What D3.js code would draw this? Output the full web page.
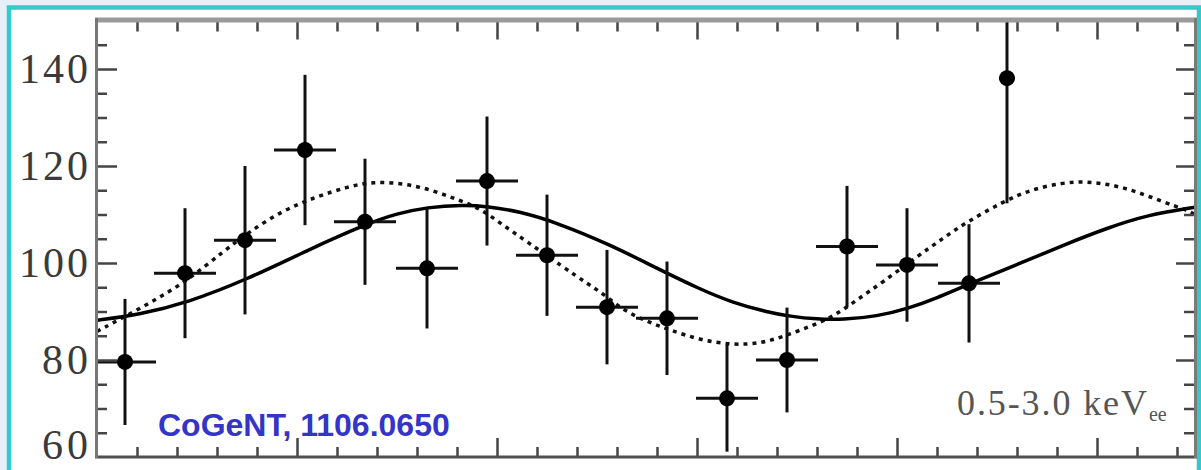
<!DOCTYPE html>
<html>
<head>
<meta charset="utf-8">
<script src="https://cdn.jsdelivr.net/npm/d3@7"></script>
<style>
  body { margin: 0; background: #e6eef7; }
  svg { display: block; }
</style>
</head>
<body>
<svg id="chart" width="1201" height="470"></svg>
<script>
// Data (days since start, counts per bin)
const binDays = [14, 44, 74, 104, 134, 165, 195, 225, 255, 285, 315, 345, 375, 405, 436, 455];
const counts = [79.6, 97.9, 104.7, 123.3, 108.5, 98.9, 116.9, 101.6, 90.9, 88.6, 72.1, 80.0, 103.4, 99.6, 95.8, 138.1];
const countErr = [13, 13.4, 15.3, 15.5, 13, 12.4, 13.3, 12.5, 11.8, 11.7, 11, 10.8, 12.5, 11.7, 12.2, 25.8];
const binHalfWidth = [15.5, 15.5, 15.5, 15.5, 15.5, 15.5, 15.5, 15.5, 15.5, 15.5, 15.5, 15.5, 15.5, 15.5, 15.5, 4];

// solid curve (expected annual modulation)
const solidDays = [0, 21.5, 45, 75, 105, 135, 150, 165, 183, 195, 211.5, 230, 256.5, 280, 301.5, 318, 335, 346.5, 360, 373, 390, 405.5, 420, 435, 461.5, 485, 505, 525, 549];
const solidCounts = [88.2, 89.4, 91.8, 96.6, 102.6, 108.1, 110.2, 111.5, 112.0, 111.7, 110.6, 108.3, 103.8, 98.9, 94.6, 91.8, 89.9, 89.0, 88.4, 88.3, 89.0, 90.6, 92.8, 95.5, 99.9, 104.0, 107.2, 109.9, 111.5];

// dotted curve (best fit modulation)
const fitDays = [0, 26.5, 45, 63, 75, 93, 110, 125, 138, 153, 166.5, 180, 191.5, 203, 215, 233, 245, 253, 263, 275, 286.5, 301.5, 318, 331.5, 343, 356.5, 368, 380, 393, 410, 423, 435, 453, 466.5, 483, 495, 508, 520, 533, 545, 549];
const fitCounts = [85.9, 91.7, 96.3, 102.3, 106.1, 110.9, 113.7, 115.7, 116.8, 116.4, 115.2, 113.1, 111.3, 107.8, 104.4, 99.2, 95.8, 93.7, 90.3, 87.9, 86.2, 84.1, 83.1, 83.4, 84.8, 86.9, 88.9, 92.4, 96.1, 101.3, 105.1, 108.5, 112.6, 115.1, 116.6, 116.8, 116.1, 114.7, 112.6, 110.9, 110.0];

const yTickLabels = [60, 80, 100, 120, 140];
const energyLabel = "0.5-3.0 keV";
const energySub = "ee";
const sourceLabel = "CoGeNT, 1106.0650";

const svg = d3.select("#chart");

// Frame: cyan border round a white panel
svg.append("rect")
    .attr("x", 9)
    .attr("y", 7.5)
    .attr("width", 1190)
    .attr("height", 480)
    .attr("fill", "white")
    .attr("stroke", "#36c9cc")
    .attr("stroke-width", 4.5);

const x = d3.scaleLinear().domain([0, 549]).range([97, 1195]);
const y = d3.scaleLinear().domain([60, 150]).range([457, 20.5]);

svg.append("clipPath")
    .attr("id", "plotClip")
    .append("rect")
    .attr("x", 97)
    .attr("y", 20)
    .attr("width", 1098)
    .attr("height", 437);

const plot = svg.append("g").attr("clip-path", "url(#plotClip)");

// Curves
const line = d3.line()
    .x(d => x(d[0]))
    .y(d => y(d[1]))
    .curve(d3.curveBasis);

plot.append("path")
    .datum(d3.zip(fitDays, fitCounts))
    .attr("d", line)
    .attr("fill", "none")
    .attr("stroke", "#111")
    .attr("stroke-width", 3.5)
    .attr("stroke-dasharray", "4,5");

plot.append("path")
    .datum(d3.zip(solidDays, solidCounts))
    .attr("d", line)
    .attr("fill", "none")
    .attr("stroke", "#000")
    .attr("stroke-width", 3.5);

// Data points with error bars
const points = binDays.map((d, i) => ({ day: d, n: counts[i], err: countErr[i], hw: binHalfWidth[i] }));

plot.selectAll("line.vbar")
    .data(points)
    .enter()
    .append("line")
    .attr("class", "vbar")
    .attr("x1", d => x(d.day))
    .attr("x2", d => x(d.day))
    .attr("y1", d => y(d.n - d.err))
    .attr("y2", d => y(d.n + d.err))
    .attr("stroke", "#111")
    .attr("stroke-width", 3);

plot.selectAll("line.hbar")
    .data(points)
    .enter()
    .append("line")
    .attr("class", "hbar")
    .attr("x1", d => x(d.day - d.hw))
    .attr("x2", d => x(d.day + d.hw))
    .attr("y1", d => y(d.n))
    .attr("y2", d => y(d.n))
    .attr("stroke", "#111")
    .attr("stroke-width", 3);

plot.selectAll("circle")
    .data(points)
    .enter()
    .append("circle")
    .attr("cx", d => x(d.day))
    .attr("cy", d => y(d.n))
    .attr("r", 8)
    .attr("fill", "#000");

// Ticks on all four sides (minor every 20 days / 5 counts)
const minorX = d3.range(20, 549, 20).filter(d => d % 100 !== 0);
const majorX = d3.range(100, 549, 100);
const minorY = d3.range(65, 150, 5).filter(d => d % 20 !== 0);
const majorY = d3.range(80, 150, 20);

function ticks(g) {
    g.select(".domain").remove();
    g.selectAll(".tick line").attr("stroke", "#444").attr("stroke-width", 2.5);
}

svg.append("g").attr("transform", `translate(0,${y(60)})`)
    .call(d3.axisTop(x).tickValues(minorX).tickSize(10).tickFormat("")).call(ticks);
svg.append("g").attr("transform", `translate(0,${y(60)})`)
    .call(d3.axisTop(x).tickValues(majorX).tickSize(19).tickFormat("")).call(ticks);
svg.append("g").attr("transform", `translate(0,${y(150)})`)
    .call(d3.axisBottom(x).tickValues(minorX).tickSize(11).tickFormat("")).call(ticks);
svg.append("g").attr("transform", `translate(0,${y(150)})`)
    .call(d3.axisBottom(x).tickValues(majorX).tickSize(19).tickFormat("")).call(ticks);
svg.append("g").attr("transform", `translate(${x(0)},0)`)
    .call(d3.axisRight(y).tickValues(minorY).tickSize(10).tickFormat("")).call(ticks);
svg.append("g").attr("transform", `translate(${x(0)},0)`)
    .call(d3.axisRight(y).tickValues(majorY).tickSize(20).tickFormat("")).call(ticks);
svg.append("g").attr("transform", `translate(${x(549)},0)`)
    .call(d3.axisLeft(y).tickValues(minorY).tickSize(11).tickFormat("")).call(ticks);
svg.append("g").attr("transform", `translate(${x(549)},0)`)
    .call(d3.axisLeft(y).tickValues(majorY).tickSize(19).tickFormat("")).call(ticks);

// Axis lines
svg.append("line").attr("x1", 95).attr("x2", 1197).attr("y1", 20).attr("y2", 20)
    .attr("stroke", "#9a9a9a").attr("stroke-width", 5);
svg.append("line").attr("x1", 95).attr("x2", 1197).attr("y1", y(60)).attr("y2", y(60))
    .attr("stroke", "#505050").attr("stroke-width", 3);
svg.append("line").attr("x1", x(0) - 0.5).attr("x2", x(0) - 0.5).attr("y1", 18).attr("y2", 458)
    .attr("stroke", "#777").attr("stroke-width", 3);
svg.append("line").attr("x1", x(549) + 0.5).attr("x2", x(549) + 0.5).attr("y1", 18).attr("y2", 458)
    .attr("stroke", "#7a7a7a").attr("stroke-width", 3);

// Y tick labels (wide serif digits, ~23px per digit)
svg.selectAll("text.ylab")
    .data(yTickLabels)
    .enter()
    .append("text")
    .attr("class", "ylab")
    .attr("x", 88)
    .attr("y", d => Math.min(y(d) + 14, 459))
    .attr("text-anchor", "end")
    .attr("font-family", "Liberation Serif")
    .attr("font-size", 42)
    .attr("textLength", d => String(d).length * 23)
    .attr("lengthAdjust", "spacing")
    .attr("fill", "#3a3a3a")
    .text(d => d);

// Energy range label
const eText = svg.append("text")
    .attr("x", 957)
    .attr("y", 415)
    .attr("font-family", "Liberation Serif")
    .attr("font-size", 36)
    .attr("fill", "#555");
eText.append("tspan").attr("textLength", 190).attr("lengthAdjust", "spacing").text(energyLabel);
eText.append("tspan").attr("dy", 6).attr("font-size", 20).text(energySub);

// Source label
svg.append("text")
    .attr("x", 158)
    .attr("y", 436)
    .attr("font-family", "Liberation Sans")
    .attr("font-weight", "bold")
    .attr("font-size", 32)
    .attr("fill", "#3434c8")
    .text(sourceLabel);
</script>
</body>
</html>
